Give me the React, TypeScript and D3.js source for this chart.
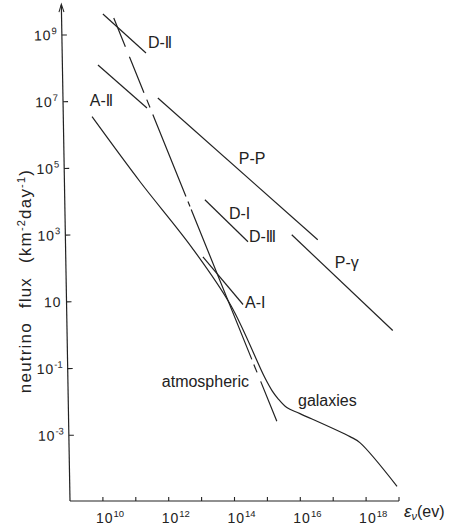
import React from 'react';
import * as d3 from 'd3';

// all values are log10 exponents
const xTickExps = [10, 11, 12, 13, 14, 15, 16, 17, 18, 19];
const xLabelExps = [10, 12, 14, 16, 18];
const yTickExps = [9, 7, 5, 3, 1, -1, -3];

const dIILogE = [10.0, 11.31];
const dIILogF = [9.63, 8.46];
const aIILogE = [9.85, 11.34];
const aIILogF = [8.1, 6.81];
const ppLogE = [11.67, 16.53];
const ppLogF = [7.11, 2.86];
const dILogE = [13.1, 14.41];
const dILogF = [4.06, 2.8];
const pgLogE = [15.74, 18.81];
const pgLogF = [3.01, 0.14];
const aILogE = [13.04, 14.26];
const aILogF = [2.35, 0.92];
const atmLogE = [10.33, 15.29];
const atmLogF = [9.51, -2.59];
const galLogE = [9.67, 11.13, 12.71, 13.89, 14.92, 15.14, 15.32, 15.59, 15.99, 17.51, 17.81, 18.94];
const galLogF = [6.55, 4.6, 2.62, 0.89, -1.27, -1.66, -1.9, -2.17, -2.35, -3.04, -3.22, -4.53];

const W = 452;
const H = 529;
const ink = '#222';
const font = '"Liberation Sans", Arial, sans-serif';

const x = d3.scaleLog().domain([1e9, 1e19]).range([70, 399]);
const y = d3.scaleLog().domain([1e-5, 1e10]).range([502, 1.6]);
const X = (e: number) => x(Math.pow(10, e));
const Y = (f: number) => y(Math.pow(10, f));

const pts = (es: number[], fs: number[]) => es.map((e, i) => [e, fs[i]] as [number, number]);
const straight = d3.line<[number, number]>().x(d => X(d[0])).y(d => Y(d[1]));
const smooth = d3
  .line<[number, number]>()
  .x(d => X(d[0]))
  .y(d => Y(d[1]))
  .curve(d3.curveCatmullRom.alpha(0.5));

const Label = ({ e, f, main, num, size = 16 }: { e: number; f: number; main: string; num?: string; size?: number }) => (
  <text x={X(e)} y={Y(f)} fontSize={size} fill={ink} fontFamily={font}>
    {main}
    {num && <tspan fontFamily='"DejaVu Sans", sans-serif' fontSize={size - 1}>{num}</tspan>}
  </text>
);

export default function App() {
  const axisY = 501;
  const x0 = x(1e9);
  return (
    <svg width={W} height={H} style={{ position: 'absolute', left: 0, top: 0, background: '#fff' }}>
      {/* y axis, slightly tilted like the scan */}
      <g transform={`rotate(-1, ${x0}, ${axisY})`}>
        <line x1={x0} x2={x0} y1={axisY} y2={5} stroke={ink} strokeWidth={1.2} />
        <path d={`M${x0 - 2.5},${12} L${x0},${4} L${x0 + 2.5},${12}`} fill="none" stroke={ink} strokeWidth={1} />
        {yTickExps.map(t => (
          <g key={t}>
            <line x1={x0} x2={x0 + 5} y1={Y(t)} y2={Y(t)} stroke={ink} strokeWidth={1.1} />
            <text x={x0 - 5} y={Y(t) + 5} textAnchor="end" fontSize={14} fill={ink} fontFamily={font} letterSpacing={1}>
              10
              {t !== 1 && (
                <tspan dy={-6} fontSize={9.5} letterSpacing={0}>
                  {t}
                </tspan>
              )}
            </text>
          </g>
        ))}
      </g>

      {/* x axis */}
      <line x1={x0} x2={x(1e19)} y1={axisY} y2={axisY} stroke={ink} strokeWidth={1.2} />
      {xTickExps.map(t => (
        <line key={t} x1={X(t)} x2={X(t)} y1={axisY} y2={axisY - 4} stroke={ink} strokeWidth={1.1} />
      ))}
      {xLabelExps.map(t => (
        <text key={t} x={X(t) - 7} y={523} fontSize={14} fill={ink} fontFamily={font} letterSpacing={1}>
          10
          <tspan dy={-6} fontSize={9.5} letterSpacing={0}>
            {t}
          </tspan>
        </text>
      ))}
      <text x={404} y={517} fontSize={16} fill={ink} fontFamily={font}>
        <tspan fontStyle="italic" fontSize={17}>ε</tspan>
        <tspan dy={3} fontSize={11} fontStyle="italic">ν</tspan>
        <tspan dy={-3}>(ev)</tspan>
      </text>

      {/* y axis title */}
      <text
        transform="translate(31, 281) rotate(-90)"
        textAnchor="middle"
        fontSize={17}
        fill={ink}
        fontFamily={font}
        letterSpacing={1.2}
        wordSpacing={8}
      >
        neutrino flux (km
        <tspan dy={-6} fontSize={11}>-2</tspan>
        <tspan dy={6}>day</tspan>
        <tspan dy={-6} fontSize={11}>-1</tspan>
        <tspan dy={6}>)</tspan>
      </text>

      {/* model lines */}
      <g fill="none" stroke={ink} strokeWidth={1.2}>
        <path d={straight(pts(dIILogE, dIILogF)) || ''} />
        <path d={straight(pts(aIILogE, aIILogF)) || ''} />
        <path d={straight(pts(ppLogE, ppLogF)) || ''} />
        <path d={straight(pts(dILogE, dILogF)) || ''} />
        <path d={straight(pts(pgLogE, pgLogF)) || ''} />
        <path d={straight(pts(aILogE, aILogF)) || ''} />
        <path
          d={straight(pts(atmLogE, atmLogF)) || ''}
          strokeDasharray="31,10.8,38.8,7.5,8.6,7.5,88.4,5.4,5.4,3.2,161.7,5.4,8.6,9.7,43.1"
        />
        <path d={smooth(pts(galLogE, galLogF)) || ''} />
      </g>

      {/* annotations */}
      <Label e={11.37} f={8.61} main="D-" num="Ⅱ" />
      <Label e={9.6} f={6.87} main="A-" num="Ⅱ" />
      <Label e={14.13} f={5.14} main="P-P" />
      <Label e={13.83} f={3.49} main="D-" num="Ⅰ" />
      <Label e={14.44} f={2.8} main="D-" num="Ⅲ" />
      <Label e={17.05} f={2.02} main="P-γ" />
      <Label e={14.32} f={0.83} main="A-" num="Ⅰ" />
      <Label e={11.79} f={-1.54} main="atmospheric" />
      <Label e={15.93} f={-2.11} main="galaxies" />
    </svg>
  );
}
